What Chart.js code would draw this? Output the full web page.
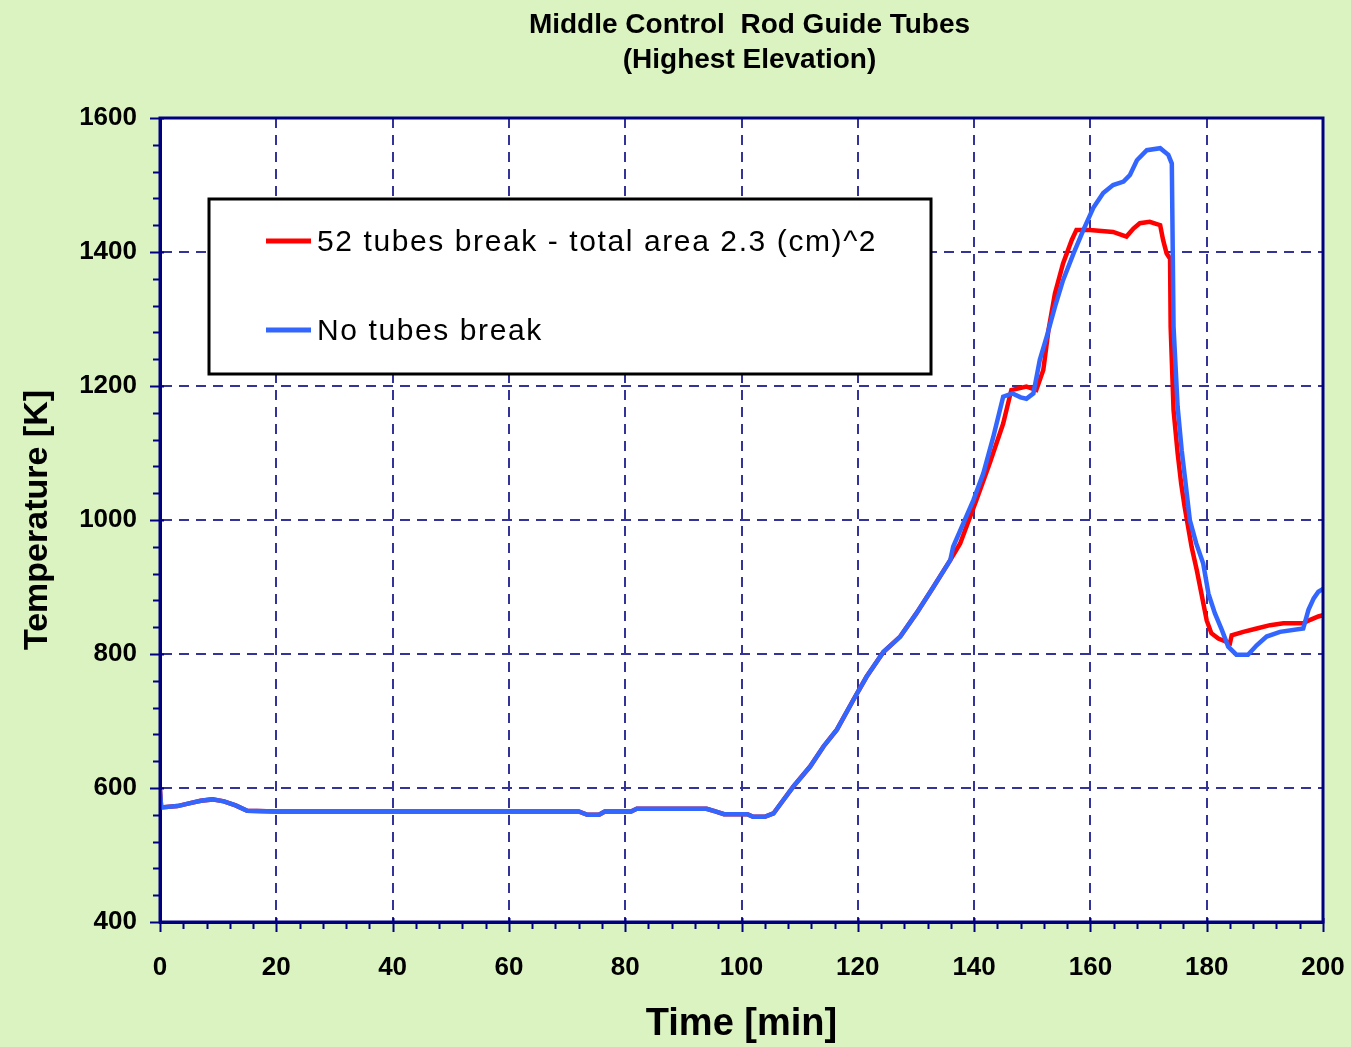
<!DOCTYPE html>
<html>
<head>
<meta charset="utf-8">
<script src="https://cdn.jsdelivr.net/npm/chart.js@4.4.0/dist/chart.umd.min.js"></script>
<style>
  body { margin: 0; background: #daf3c1; }
  #wrap { width: 1351px; height: 1047px; position: relative; }
</style>
</head>
<body>
<div id="wrap"><canvas id="tempChart"></canvas></div>
<script>
// Middle control rod guide tubes - temperature vs time

var titleLines = ['Middle Control  Rod Guide Tubes', '(Highest Elevation)'];
var seriesNames = ['52 tubes break - total area 2.3 (cm)^2', 'No tubes break'];
var seriesColors = ['#ff0000', '#3366ff'];

var xTicks = [0, 20, 40, 60, 80, 100, 120, 140, 160, 180, 200];
var yTicks = [400, 600, 800, 1000, 1200, 1400, 1600];

// 52 tubes break
var timeRed = [0, 0.2, 3, 5, 7, 9, 11, 13, 15, 20, 40, 60, 72, 73.5, 75.5, 76.5, 81, 82, 94, 95.5, 97, 101, 102, 104, 105.5, 106.6,
  108.9, 111.8, 114.1, 116.4, 119.2, 121.5, 124.4, 127.3, 130.1, 133, 135.9, 137.6, 140.4, 142.7, 145, 146.4, 149, 150.7, 151.9,
  152.8, 153.9, 155.3, 156.8, 157.6, 159.9, 163.9, 166.2, 167.4, 168.5, 170.2, 172, 172.5, 173.1, 173.7, 173.8, 174.3, 175,
  175.6, 176.2, 176.6, 177.4, 178.3, 179.1, 180, 180.8, 182, 184, 184.3, 186.3, 188.6, 190.9, 193.2, 196.6, 197.8, 199.2, 200];
var tempRed = [597, 571, 573, 577, 581, 583, 580, 574, 566, 565, 565, 565, 565, 560, 560, 565, 565, 569, 569, 565, 561, 561, 557, 557, 562, 575,
  602, 632, 662, 687, 731, 766, 803, 826, 861, 900, 940, 965, 1030, 1085, 1144, 1194, 1199, 1194, 1224,
  1284, 1338, 1383, 1418, 1433, 1433, 1430, 1423, 1435, 1443, 1445, 1440, 1418, 1398, 1390, 1288, 1164, 1100,
  1055, 1020, 1000, 960, 925, 890, 850, 831, 823, 816, 828, 833, 838, 843, 846, 846, 851, 856, 858];

// no tubes break
var timeBlue = [0, 0.2, 3, 5, 7, 9, 11, 13, 15, 20, 40, 60, 72, 73.5, 75.5, 76.5, 81, 82, 94, 95.5, 97, 101, 102, 104, 105.5, 106.6,
  108.9, 111.8, 114.1, 116.4, 119.2, 121.5, 124.4, 127.3, 130.1, 133, 135.9, 136.4, 139.9, 141.6, 143.3, 145, 146.6, 148, 149,
  150.2, 151.3, 152.5, 153.9, 155.3, 157.1, 158.8, 160.5, 162.2, 163.9, 165.7, 166.8, 168, 169.7, 172, 173.4, 174, 174.3,
  175, 175.7, 176.3, 177.1, 178.2, 179.4, 180.3, 181.4, 182.6, 183.7, 185.1, 187.1, 188.6, 190.3, 192.6, 196.6, 197.5, 198.4,
  199.2, 200];
var tempBlue = [597, 571, 573, 577, 581, 583, 580, 574, 566, 565, 565, 565, 565, 560, 560, 565, 565, 569, 569, 565, 561, 561, 557, 557, 562, 575,
  602, 632, 662, 687, 731, 766, 803, 826, 861, 900, 940, 960, 1030, 1070, 1124, 1184, 1189, 1183, 1181,
  1189, 1239, 1274, 1318, 1358, 1398, 1433, 1466, 1488, 1500, 1505, 1515, 1537, 1552, 1555, 1545, 1532, 1288,
  1169, 1104, 1060, 1000, 965, 935, 890, 861, 836, 811, 799, 799, 813, 826, 833, 838, 866, 883,
  893, 897];

function toPoints(xs, ys) {
  return xs.map(function (x, i) { return { x: x, y: ys[i] }; });
}

var navy = '#000080';
var gridBlue = '#333399';
var fontFam = '"Liberation Sans", Arial, sans-serif';

// white plot area, frame, minor ticks, title and legend box
var plotFrame = {
  id: 'plotFrame',
  beforeDraw: function (chart) {
    var a = chart.chartArea, ctx = chart.ctx;
    ctx.save();
    ctx.fillStyle = '#ffffff';
    ctx.fillRect(a.left, a.top, a.right - a.left, a.bottom - a.top);
    ctx.restore();
  },
  afterDraw: function (chart) {
    var a = chart.chartArea, ctx = chart.ctx;
    var xs = chart.scales.x, ys = chart.scales.y;
    ctx.save();
    ctx.strokeStyle = navy;
    ctx.lineWidth = 3;
    ctx.strokeRect(a.left, a.top, a.right - a.left, a.bottom - a.top);
    ctx.lineWidth = 2;
    ctx.beginPath();
    for (var t = 0; t <= 200; t += 4) {
      var px = Math.round(xs.getPixelForValue(t)) + 0.5;
      var major = t % 20 === 0;
      ctx.moveTo(px, a.bottom - (major ? 4 : 0));
      ctx.lineTo(px, a.bottom + (major ? 10 : 7));
    }
    for (var v = 400; v <= 1600; v += 40) {
      var py = Math.round(ys.getPixelForValue(v)) + 0.5;
      var maj = v % 200 === 0;
      ctx.moveTo(a.left - (maj ? 10 : 7), py);
      ctx.lineTo(a.left + (maj ? 4 : 0), py);
    }
    ctx.stroke();

    // title
    var cx = (a.left + a.right) / 2 + 8;
    ctx.fillStyle = '#000';
    ctx.textAlign = 'center';
    ctx.textBaseline = 'middle';
    ctx.font = 'bold 28px ' + fontFam;
    ctx.fillText(titleLines[0], cx, 25);
    ctx.fillText(titleLines[1], cx, 60);

    // legend box
    var bx = 209, by = 199, bw = 722, bh = 175;
    ctx.fillStyle = '#ffffff';
    ctx.fillRect(bx, by, bw, bh);
    ctx.strokeStyle = '#000';
    ctx.lineWidth = 3;
    ctx.strokeRect(bx, by, bw, bh);
    var rows = [241, 330];
    ctx.font = '30px ' + fontFam;
    ctx.letterSpacing = '1.6px';
    ctx.textAlign = 'left';
    for (var i = 0; i < seriesNames.length; i++) {
      ctx.strokeStyle = seriesColors[i];
      ctx.lineWidth = 5;
      ctx.beginPath();
      ctx.moveTo(266, rows[i]);
      ctx.lineTo(311, rows[i]);
      ctx.stroke();
      ctx.fillStyle = '#000';
      ctx.fillText(seriesNames[i], 317, rows[i] + 2);
    }
    ctx.letterSpacing = '0px';
    ctx.restore();
  }
};

var ctx = document.getElementById('tempChart');
var tempChart = new Chart(ctx, {
  type: 'line',
  data: {
    datasets: [{
      label: seriesNames[1],
      data: toPoints(timeBlue, tempBlue),
      borderColor: seriesColors[1],
      borderWidth: 4.5,
      pointRadius: 0,
      tension: 0,
      fill: false
    }, {
      label: seriesNames[0],
      data: toPoints(timeRed, tempRed),
      borderColor: seriesColors[0],
      borderWidth: 4.5,
      pointRadius: 0,
      tension: 0,
      fill: false
    }]
  },
  options: {
    responsive: true,
    maintainAspectRatio: false,
    animation: false,
    layout: { padding: { top: 118, right: 28, left: 0, bottom: 0 } },
    plugins: {
      legend: { display: false },
      title: { display: false },
      tooltip: { enabled: false }
    },
    scales: {
      x: {
        type: 'linear',
        min: 0,
        max: 200,
        afterFit: function (s) { s.height = 125; s.paddingLeft = 0; s.paddingRight = 0; },
        afterBuildTicks: function (s) { s.ticks = xTicks.map(function (v) { return { value: v }; }); },
        ticks: {
          padding: 30,
          color: '#000',
          maxRotation: 0,
          callback: function (v) { return String(v); },
          font: { family: fontFam, size: 26, weight: 'bold' }
        },
        grid: { color: gridBlue, lineWidth: 2, drawTicks: false },
        border: { display: true, color: navy, width: 3, dash: [10, 7] },
        title: {
          display: true,
          text: 'Time [min]',
          color: '#000',
          padding: { top: 0, bottom: 0 },
          font: { family: fontFam, size: 38, weight: 'bold' }
        }
      },
      y: {
        type: 'linear',
        min: 400,
        max: 1600,
        afterFit: function (s) { s.width = 160; s.paddingTop = 0; s.paddingBottom = 0; },
        afterBuildTicks: function (s) { s.ticks = yTicks.map(function (v) { return { value: v }; }); },
        ticks: {
          padding: 23,
          color: '#000',
          callback: function (v) { return String(v); },
          font: { family: fontFam, size: 26, weight: 'bold' }
        },
        grid: { color: gridBlue, lineWidth: 2, drawTicks: false },
        border: { display: true, color: navy, width: 3, dash: [10, 7] },
        title: {
          display: true,
          text: 'Temperature [K]',
          color: '#000',
          padding: { top: 17, bottom: 0 },
          font: { family: fontFam, size: 34, weight: 'bold' }
        }
      }
    }
  },
  plugins: [plotFrame]
});
</script>
</body>
</html>
